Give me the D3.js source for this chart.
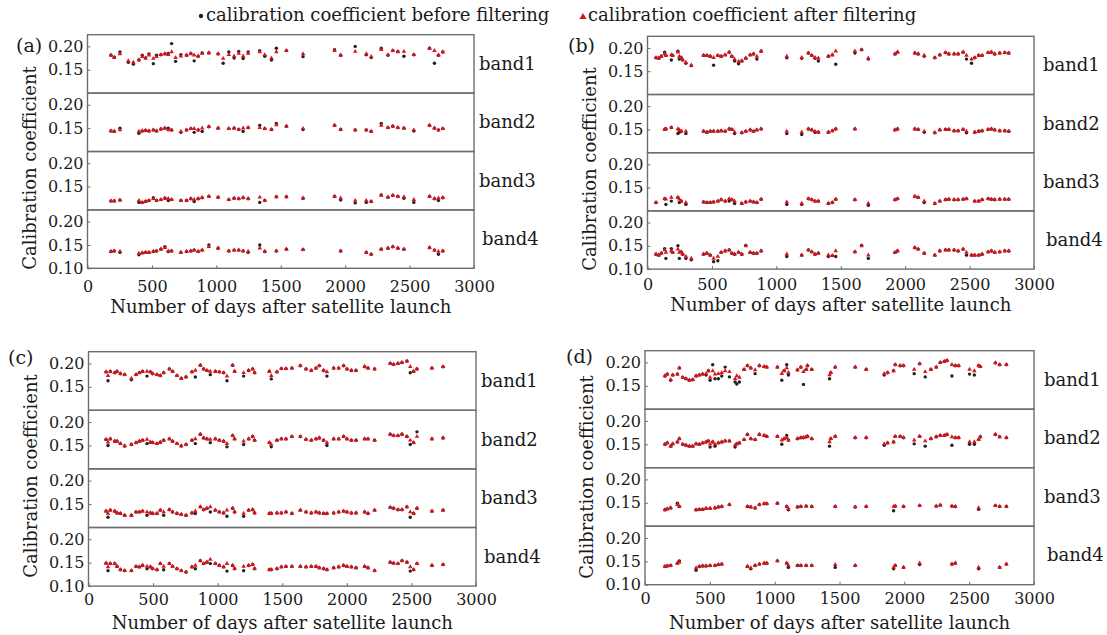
<!DOCTYPE html>
<html>
<head>
<meta charset="utf-8">
<script src="https://cdn.jsdelivr.net/npm/d3@7"></script>
<style>
  body { margin: 0; background: #fff; }
  svg { display: block; }
</style>
</head>
<body>
<svg id="chart" width="1107" height="635"></svg>
<script>
// Calibration coefficient before / after filtering, four satellites x four bands.

const bandNames = ["band1", "band2", "band3", "band4"];
const xTicks = [0, 500, 1000, 1500, 2000, 2500, 3000];
const yTicks = [0.20, 0.15];
const yTicksBottom = [0.20, 0.15, 0.10];

// ---- panel (a)
const aDays = [182,208,252,317,356,399,425,451,477,511, 536,570,601,627,653,684,725,769,802,828, 859,890,942,1014,1053,1097,1138,1174,1208,1247, 1337,1376,1428,1466,1544,1673,1918,1965,2078,2164, 2202,2280,2332,2370,2409,2456,2533,2655,2693,2724, 2758];
const aAfter1 = [.181,.176,.184,.169,.166,.171,.178,.175,.181,.174, .178,.182,.184,.182,.188,.176,.179,.181,.184,.181, .179,.185,.186,.184,.174,.182,.179,.185,.179,.185, .188,.182,.175,.188,.191,.184,.191,.181,.189,.184, .178,.193,.182,.191,.188,.189,.182,.195,.191,.181, .188];
const aBefore1 = [.181,.177,.188,.166,.162,.171,.181,.175,.184,.163, .181,.182,.184,.185,.206,.168,.182,.181,.185,.169, .179,.186,.186,.184,.164,.188,.175,.189,.174,.188, .191,.179,.171,.196,.191,.178,.193,.181,.200,.182, .176,.196,.181,.191,.189,.179,.182,.196,.164,.181, .188];
const aAfter2 = [.144,.143,.146,null,null,.143,.144,.145,.144,.146, .144,.148,.150,.146,.146,null,.143,.146,.149,.149, .146,.150,.153,.150,null,.149,.150,.147,.150,.151, .151,.149,.147,.157,.154,.149,.156,.147,.146,.146, .143,.156,.151,.154,.151,.150,.146,.156,.150,.146, .149];
const aBefore2 = [.144,.143,.150,null,null,.139,.144,.145,.144,.146, .144,.148,.150,.150,.146,null,.141,.146,.149,.141, .146,.143,.153,.150,null,.149,.150,.147,.143,.151, .156,.149,.147,.160,.154,.147,.156,.147,.146,.146, .143,.160,.151,.154,.151,.150,.144,.156,.150,.146, .149];
const aAfter3 = [.119,.119,.121,null,null,.120,.116,.118,.120,.124, .120,.122,.125,.124,.122,null,.120,.120,.124,.122, .124,.126,.129,.127,null,.122,.125,.124,.126,.124, .127,.120,null,.128,.128,.125,.129,.125,.120,.120, .118,.131,.127,.131,.129,.128,.122,.129,.124,.125, .126];
const aBefore3 = [.119,.119,.121,null,null,.116,.116,.118,.120,.126, .120,.122,.125,.120,.122,null,.120,.120,.124,.118, .124,.126,.129,.127,null,.122,.125,.124,.126,.124, .116,.120,null,.128,.128,.125,.129,.121,.115,.116, .118,.132,.127,.131,.129,.125,.116,.129,.124,.120, .126];
const aAfter4 = [.136,.137,.136,null,null,.132,.133,.134,.134,.136, .137,.141,.144,.137,.137,null,.134,.136,.137,.139, .136,.139,.146,.143,null,.137,.139,.139,.137,.136, .143,.136,null,.137,.141,.140,null,.137,null,.134, .130,.141,.143,.146,.143,.141,null,.144,.139,.136, .137];
const aBefore4 = [.136,.137,.134,null,null,.129,.133,.134,.134,.136, .137,.141,.146,.136,.137,null,.134,.136,.137,.139, .136,.139,.150,.143,null,.137,.139,.139,.137,.134, .150,.136,null,.137,.141,.140,null,.137,null,.134, .130,.141,.143,.146,.143,.141,null,.144,.139,.130, .137];

// ---- panel (b)
const bDays = [66,87,107,133,143,185,195,236,247,262, 273,298,340,435,461,487,513,546,572,603, 634,655,676,707,732,763,797,823,849,882, 1081,1197,1249,1275,1300,1326,1404,1435,1461,1610, 1662,1714,1921,1941,2075,2101,2148,2230,2269,2313, 2339,2380,2411,2450,2476,2515,2540,2571,2597,2644, 2669,2695,2734,2773,2804];
const bAfter1 = [.179,.178,.182,.187,.184,.185,.184,.191,.182,.179, .174,.169,.163,.184,.184,.182,.179,.184,.182,.185, .191,.182,.176,.171,.172,.178,.185,.187,.182,.193, .182,.179,.189,.184,.179,.178,.182,.185,.193,.193, .196,.178,.187,.191,.189,.187,.184,.179,.185,.190, .187,.187,.187,.191,.184,.176,.179,.184,.184,.190, .191,.187,.189,.190,.189];
const bBefore1 = [.179,.178,.182,.191,.184,.174,.184,.193,.176,.179, .174,.167,.162,.184,.184,.182,.163,.184,.182,.185, .191,.182,.172,.166,.172,.178,.185,.187,.176,.193, .179,.178,.189,.184,.178,.172,.182,.185,.165,.189, .196,.176,.187,.191,.189,.187,.182,.179,.185,.190, .187,.187,.187,.191,.176,.167,.179,.184,.184,.190, .191,.187,.189,.190,.189];
const bAfter2 = [null,null,null,.150,.151,.154,null,.151,.149,.146, null,.146,null,.146,.144,.146,.146,.146,.147,.146, .151,.150,.144,null,.143,.146,.149,.146,.149,.151, .146,.144,.151,.149,.146,.144,.144,.147,.151,.151, null,null,.149,.151,.151,.150,.146,.143,.149,.150, .150,.147,.147,.150,.146,null,.144,.146,.147,.150, .151,.149,.147,.147,.146];
const bBefore2 = [null,null,null,.150,.151,.154,null,.141,.144,.146, null,.141,null,.146,.144,.146,.146,.146,.147,.146, .151,.150,.141,null,.143,.146,.149,.146,.149,.151, .141,.139,.151,.149,.144,.144,.144,.147,.151,.151, null,null,.149,.151,.151,.150,.144,.143,.149,.150, .150,.147,.147,.150,.143,null,.144,.146,.147,.150, .151,.149,.147,.147,.146];
const bAfter3 = [.118,null,null,.126,.125,.129,null,.129,.125,.121, null,.118,null,.119,.118,.118,.119,.121,.124,.121, .126,.124,.121,null,.116,.119,.121,.119,.118,.125, .119,.116,.126,.124,.121,.121,.116,.118,.125,.124, null,.116,.124,.126,.131,.129,.121,.116,.121,.124, .125,.124,.124,.125,.126,null,.121,.121,.124,.126, .125,.124,.125,.125,.125];
const bBefore3 = [.118,null,null,.126,.114,.121,null,.129,.118,.121, null,.114,null,.119,.118,.118,.119,.121,.124,.121, .121,.124,.116,null,.116,.119,.121,.119,.118,.125, .114,.114,.126,.124,.121,.121,.116,.118,.125,.124, null,.112,.124,.126,.131,.129,.118,.116,.121,.124, .125,.124,.124,.125,.126,null,.121,.121,.124,.126, .125,.124,.125,.125,.125];
const bAfter4 = [.132,.130,.134,.141,.136,.139,.136,.143,.136,.137, .132,.127,.123,.132,.134,.130,.123,.127,.136,.139, .141,.134,.132,.136,.132,.150,.136,.134,.134,.139, .132,.130,.141,.137,.132,.134,.130,.129,.139,.137, .150,.130,.136,.139,.146,.143,.134,.130,.139,.141, .141,.141,.139,.143,.136,.130,.130,.130,.132,.137, .139,.136,.137,.139,.139];
const bBefore4 = [.132,.130,.134,.144,.123,.144,.136,.150,.123,.137, .132,.123,.120,.132,.134,.130,.116,.118,.136,.139, .141,.134,.132,.136,.132,.151,.136,.134,.134,.139, .127,.130,.141,.137,.132,.134,.127,.129,.127,.137, .151,.123,.136,.139,.146,.143,.134,.130,.139,.141, .141,.141,.139,.143,.130,.130,.130,.130,.132,.137, .139,.136,.137,.139,.139];

// ---- panel (c)
const cDays = [136,151,169,203,221,247,280,332,368,394, 419,453,479,497,530,556,582,626,651,685, 718,755,801,827,866,891,917,943,982,1013, 1046,1072,1116,1131,1201,1240,1271,1286,1400,1415, 1459,1493,1529,1575,1640,1684,1725,1761,1787,1820, 1846,1898,1937,1975,2001,2035,2071,2138,2164,2215, 2336,2362,2396,2427,2465,2491,2517,2543,2659,2745];
const cAfter1 = [.182,.174,.183,.180,.183,.178,.176,.168,.176,.180, .183,.183,.182,.178,.176,.174,.180,.188,.183,.174, .168,.171,.182,.185,.196,.188,.185,.183,.183,.182, .180,.173,.196,.183,.180,.185,.188,.180,.183,.174, .182,.189,.189,.190,.195,.188,.185,.190,.195,.185, .182,.190,.190,.195,.188,.185,.185,.193,.190,.188, .200,.198,.200,.202,.205,.193,.183,.188,.190,.193];
const cBefore1 = [.182,.163,.183,.180,.183,.178,.176,.165,.176,.180, .183,.173,.182,.178,.176,.174,.180,.188,.183,.174, .168,.171,.182,.171,.196,.188,.185,.176,.183,.182, .180,.163,.196,.183,.173,.185,.188,.180,.183,.167, .182,.189,.189,.190,.195,.188,.185,.190,.195,.185, .173,.190,.190,.195,.188,.185,.185,.193,.190,.188, .200,.198,.200,.202,.205,.180,.183,.188,.190,.193];
const cAfter2 = [.163,.157,.164,.159,.159,.154,.149,.152,.156,.159, .161,.163,.157,.156,.154,.157,.161,.164,.159,.154, .149,.152,.161,.164,.174,.166,.164,.163,.164,.161, .159,.154,.171,.164,.159,.164,.169,.161,.156,.152, .161,.164,.164,.169,.169,.163,.161,.164,.166,.161, .156,.164,.164,.169,.164,.161,.161,.164,.164,.161, .174,.171,.171,.174,.169,.161,.156,.169,.164,.166];
const cBefore2 = [.163,.150,.164,.159,.159,.154,.149,.152,.156,.159, .161,.154,.157,.156,.154,.157,.161,.164,.159,.154, .149,.152,.161,.154,.174,.166,.164,.156,.164,.161, .159,.147,.171,.164,.152,.164,.169,.161,.156,.147, .161,.164,.164,.169,.169,.163,.161,.164,.166,.161, .150,.164,.164,.169,.164,.161,.161,.164,.164,.161, .174,.171,.171,.174,.169,.152,.156,.179,.164,.166];
const cAfter3 = [.135,.130,.137,.135,.131,.130,.126,.126,.133,.133, .135,.133,.131,.130,.130,.137,.133,.138,.133,.130, .128,.126,.131,.135,.144,.138,.141,.144,.137,.133, .131,.137,.141,.133,.130,.137,.138,.131,.130,.130, .131,.131,.133,.130,.137,.133,.131,.133,.131,.130, .130,.131,.133,.135,.133,.131,.131,.133,.130,.137, .143,.141,.138,.138,.144,.133,.130,.141,.135,.137];
const cBefore3 = [.135,.122,.137,.135,.131,.130,.126,.126,.133,.133, .135,.126,.131,.130,.130,.137,.126,.138,.133,.130, .128,.126,.131,.130,.144,.138,.141,.133,.137,.133, .131,.124,.141,.133,.124,.137,.138,.131,.130,.130, .131,.131,.133,.130,.137,.133,.131,.133,.131,.130, .130,.131,.133,.135,.133,.131,.131,.133,.130,.137, .143,.141,.138,.138,.144,.122,.130,.141,.135,.137];
const cAfter4 = [.149,.141,.148,.148,.142,.135,.133,.133,.142,.141, .144,.142,.141,.137,.135,.148,.142,.148,.142,.137, .133,.130,.141,.144,.154,.148,.151,.157,.148,.144, .141,.148,.144,.137,.142,.144,.146,.137,.135,.135, .137,.141,.142,.142,.142,.141,.142,.142,.139,.137, .135,.139,.141,.144,.142,.141,.139,.142,.139,.133, .151,.149,.148,.154,.151,.141,.135,.148,.144,.146];
const cBefore4 = [.149,.133,.148,.148,.142,.135,.133,.133,.142,.141, .144,.137,.141,.137,.135,.148,.135,.148,.142,.137, .133,.130,.141,.137,.154,.148,.151,.148,.148,.144, .141,.132,.144,.137,.133,.144,.146,.137,.135,.135, .137,.141,.142,.142,.142,.141,.142,.142,.139,.137, .135,.139,.141,.144,.142,.141,.139,.142,.139,.133, .151,.149,.148,.154,.151,.132,.135,.148,.144,.146];

// ---- panel (d)
const dDays = [154,172,198,214,250,265,291,316,342,368, 394,419,445,471,489,502,522,540,566,592, 618,651,695,708,728,764,790,816,849,882, 919,939,1021,1055,1073,1093,1106,1176,1202,1222, 1243,1253,1286,1423,1433,1467,1621,1706,1845,1871, 1917,1930,1968,1994,2076,2118,2161,2205,2246,2277, 2308,2329,2367,2393,2419,2503,2540,2573,2586,2702, 2735,2787];
const dAfter1 = [.171,.175,.163,.173,.175,.188,.168,.165,.162,.163, .171,.173,.175,.176,.182,.168,.182,.175,.176,.178, .182,.180,.165,.171,.168,.185,.193,.188,.184,.193, .191,.190,.190,.176,.182,.188,.178,.184,.190,.180, .185,.193,.185,.173,.178,.190,.190,.185,.176,.178, .182,.195,.193,.193,.185,.197,.180,.185,.190,.200, .202,.204,.195,.193,.193,.185,.182,.193,.191,.199, .195,.195];
const dBefore1 = [.171,.175,.162,.173,.175,.188,.168,.165,.162,.163, .171,.173,.175,.173,.182,.162,.195,.165,.165,.171, .190,.169,.158,.154,.158,.185,.193,.188,.176,.193, .191,.190,.190,.162,.182,.195,.173,.184,.190,.153, .185,.193,.185,.165,.178,.190,.190,.185,.173,.178, .182,.195,.193,.193,.176,.197,.169,.185,.190,.200, .202,.204,.171,.193,.193,.175,.173,.193,.191,.199, .195,.195];
const dAfter2 = [.150,.153,.146,.151,.155,.162,.150,.148,.146,.146, .151,.150,.153,.155,.157,.150,.155,.150,.153,.155, .157,.157,.148,.151,.153,.160,.171,.162,.160,.171, .169,.167,.167,.159,.162,.164,.159,.162,.164,.164, .166,.167,.162,.155,.162,.167,.164,.164,.151,.153, .155,.167,.167,.164,.159,.167,.157,.162,.166,.169, .169,.171,.166,.164,.164,.155,.155,.160,.166,.171, .166,.164];
const dBefore2 = [.150,.153,.146,.151,.155,.162,.150,.148,.146,.146, .151,.150,.153,.155,.157,.144,.155,.146,.153,.155, .157,.157,.144,.151,.153,.160,.171,.162,.160,.171, .169,.167,.167,.150,.162,.169,.159,.162,.164,.164, .166,.167,.162,.146,.162,.167,.164,.164,.148,.153, .155,.167,.167,.164,.151,.167,.146,.162,.166,.169, .169,.171,.148,.164,.164,.150,.150,.160,.166,.171, .166,.164];
const dAfter3 = [.135,.137,.139,null,.146,.142,null,null,null,null, .135,.136,.136,.138,null,.138,null,.139,.141,.142, null,.146,null,null,null,null,.142,.141,.139,.146, .148,.148,.149,null,null,.142,.137,.141,.142,null, .143,null,.142,null,null,.142,.141,.142,null,null, .142,.143,null,.142,null,.144,null,null,.143,.145, null,null,.143,.142,null,null,null,.139,null,.144, .142,.142];
const dBefore3 = [.135,.137,.139,null,.149,.142,null,null,null,null, .135,.136,.136,.138,null,.138,null,.139,.141,.142, null,.146,null,null,null,null,.142,.141,.139,.146, .148,.148,.149,null,null,.142,.135,.141,.142,null, .143,null,.142,null,null,.142,.141,.142,null,null, .133,.143,null,.142,null,.144,null,null,.143,.145, null,null,.143,.142,null,null,null,.136,null,.144, .142,.142];
const dAfter4 = [.139,.140,.141,null,.146,.148,null,null,null,null, .136,.139,.140,.140,null,.141,null,.141,.143,.144, null,null,null,null,null,null,.139,.136,.141,.144, .146,.146,.151,null,null,.146,.141,.141,.141,null, .141,null,.141,null,null,.143,.141,null,null,null, .137,.141,null,.137,null,.146,null,null,null,null, null,null,.144,.146,null,null,null,.137,null,null, .137,.144];
const dBefore4 = [.139,.140,.141,null,.146,.151,null,null,null,null, .131,.139,.140,.140,null,.141,null,.141,.143,.144, null,null,null,null,null,null,.139,.134,.141,.144, .146,.146,.151,null,null,.146,.137,.141,.141,null, .141,null,.141,null,null,.137,.141,null,null,null, .134,.141,null,.137,null,.143,null,null,null,null, null,null,.144,.146,null,null,null,.134,null,null, .137,.144];

const panels = [
  { tag: "(a)", days: aDays, after: [aAfter1, aAfter2, aAfter3, aAfter4], before: [aBefore1, aBefore2, aBefore3, aBefore4],
    left: 87.5, top: 34.7, width: 386.5, bandH: 58.4, tagX: 16, tagY: 52, labelDx: 5, titleY: 168, tickPad: 12, xTitleY: 313 },
  { tag: "(b)", days: bDays, after: [bAfter1, bAfter2, bAfter3, bAfter4], before: [bBefore1, bBefore2, bBefore3, bBefore4],
    left: 647.5, top: 36.3, width: 386.5, bandH: 58.2, tagX: 568, tagY: 52, labelDx: 9, titleY: 169, tickPad: 10, xTitleY: 311 },
  { tag: "(c)", days: cDays, after: [cAfter1, cAfter2, cAfter3, cAfter4], before: [cBefore1, cBefore2, cBefore3, cBefore4],
    left: 88.5, top: 351.7, width: 387.5, bandH: 58.6, tagX: 8, tagY: 364, labelDx: 5, titleY: 476, tickPad: 8, xTitleY: 629 },
  { tag: "(d)", days: dDays, after: [dAfter1, dAfter2, dAfter3, dAfter4], before: [dBefore1, dBefore2, dBefore3, dBefore4],
    left: 645, top: 350.7, width: 389, bandH: 58.5, tagX: 566, tagY: 363, labelDx: 10, titleY: 477, tickPad: 8, xTitleY: 629 }
];

const FONT = "DejaVu Serif";
const INK = "#1a1a1a";
const FRAME = "#6e6e6e";
const RED = "#d8141c";

const svg = d3.select("#chart");
svg.append("rect").attr("width", 1107).attr("height", 635).attr("fill", "#fff");

const triangle = d3.symbol().type(d3.symbolTriangle);

function styleAxis(axis) {
  axis.select(".domain").remove();
  axis.selectAll("line").attr("stroke", FRAME);
  axis.selectAll("text")
    .attr("font-family", FONT)
    .attr("font-size", 16)
    .attr("fill", INK);
}

function drawPanel(p) {
  const g = svg.append("g");
  const x = d3.scaleLinear().domain([0, 3000]).range([p.left, p.left + p.width]);

  bandNames.forEach((name, i) => {
    const top = p.top + i * p.bandH;
    const y = d3.scaleLinear().domain([0.10, 0.225]).range([top + p.bandH, top]);

    g.append("g")
      .attr("transform", `translate(${p.left},0)`)
      .call(d3.axisLeft(y)
        .tickValues(i === 3 ? yTicksBottom : yTicks)
        .tickFormat(d3.format(".2f"))
        .tickSizeInner(-3)
        .tickSizeOuter(0)
        .tickPadding(4))
      .call(styleAxis);

    const before = p.days.map((d, k) => ({ day: d, v: p.before[i][k] })).filter(o => o.v != null);
    const after = p.days.map((d, k) => ({ day: d, v: p.after[i][k] })).filter(o => o.v != null);

    g.append("g").selectAll("circle")
      .data(before)
      .join("circle")
      .attr("cx", d => x(d.day))
      .attr("cy", d => y(d.v))
      .attr("r", 1.7)
      .attr("fill", "#202020");

    g.append("g").selectAll("path")
      .data(after)
      .join("path")
      .attr("d", triangle.size(9))
      .attr("transform", d => `translate(${x(d.day)},${y(d.v)})`)
      .attr("fill", RED);

    g.append("rect")
      .attr("x", p.left)
      .attr("y", top)
      .attr("width", p.width)
      .attr("height", p.bandH)
      .attr("fill", "none")
      .attr("stroke", FRAME)
      .attr("stroke-width", 1.4);

    g.append("text")
      .attr("x", p.left + p.width + p.labelDx + (i === 3 ? 3 : 0))
      .attr("y", top + p.bandH / 2 + 6)
      .attr("font-family", FONT)
      .attr("font-size", 18)
      .attr("fill", INK)
      .text(name);
  });

  const bottom = p.top + 4 * p.bandH;
  g.append("g")
    .attr("transform", `translate(0,${bottom})`)
    .call(d3.axisBottom(x)
      .tickValues(xTicks)
      .tickFormat(d3.format("d"))
      .tickSizeInner(-3)
      .tickSizeOuter(0)
      .tickPadding(p.tickPad))
    .call(styleAxis);

  g.append("text")
    .attr("x", p.left + p.width / 2)
    .attr("y", p.xTitleY)
    .attr("text-anchor", "middle")
    .attr("font-family", FONT)
    .attr("font-size", 18)
    .attr("fill", INK)
    .text("Number of days after satellite launch");

  g.append("text")
    .attr("transform", `translate(${p.left - 52},${p.titleY}) rotate(-90)`)
    .attr("text-anchor", "middle")
    .attr("font-family", FONT)
    .attr("font-size", 18)
    .attr("fill", INK)
    .text("Calibration coefficient");

  g.append("text")
    .attr("x", p.tagX)
    .attr("y", p.tagY)
    .attr("font-family", FONT)
    .attr("font-size", 19)
    .attr("fill", INK)
    .text(p.tag);
}

panels.forEach(drawPanel);

// legend
const legend = svg.append("g").attr("font-family", FONT).attr("font-size", 18).attr("fill", INK);
legend.append("circle").attr("cx", 201).attr("cy", 16).attr("r", 2.2).attr("fill", "#202020");
legend.append("text").attr("x", 206).attr("y", 21).text("calibration coefficient before filtering");
legend.append("path")
  .attr("d", d3.symbol().type(d3.symbolTriangle).size(22)())
  .attr("transform", "translate(583,17)")
  .attr("fill", RED);
legend.append("text").attr("x", 588).attr("y", 21).text("calibration coefficient after filtering");
</script>
</body>
</html>
